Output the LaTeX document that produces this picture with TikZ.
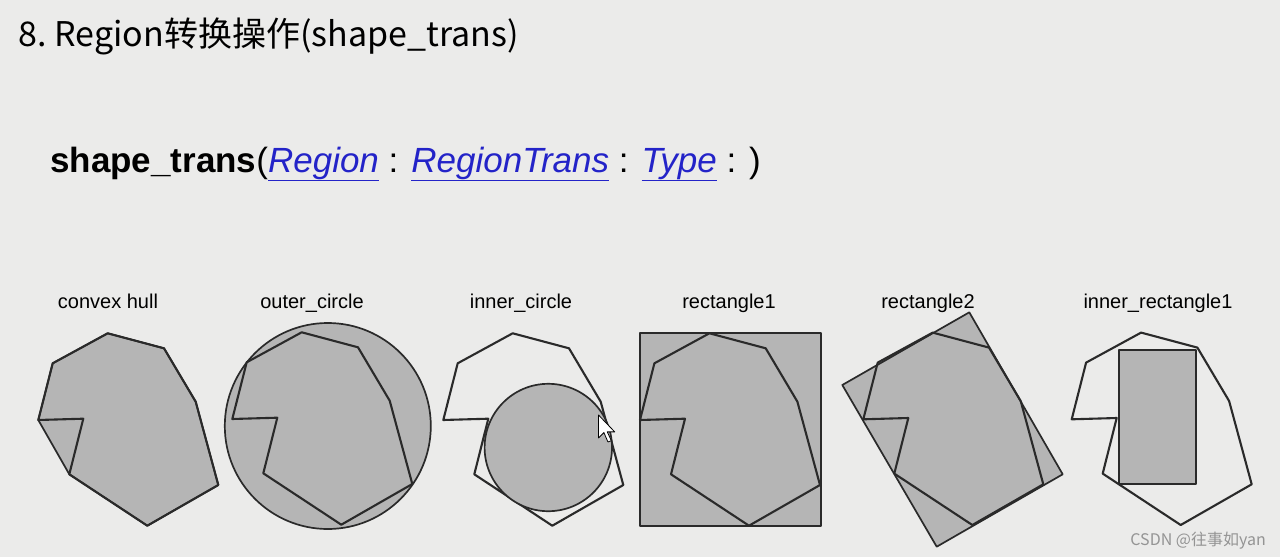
\documentclass[tikz,border=0pt]{standalone}
\usepackage{fontspec}
\usepackage{xcolor}
\usepackage{tikz}
\setmainfont{Liberation Sans}
\newfontfamily\cjk{Noto Sans CJK SC}
\definecolor{paper}{HTML}{EBEBEA}
\definecolor{regfill}{HTML}{B5B5B5}
\definecolor{regline}{HTML}{2A2A2A}
\definecolor{linkblue}{HTML}{2323C8}
\newcommand{\reglink}[1]{\textcolor{linkblue}{\underline{\textit{#1}}}}

\begin{document}
\begin{tikzpicture}[x=1pt, y=-1pt, line join=round,
  region/.style={draw=regline, line width=2.1pt},
  trans/.style={fill=regfill, draw=regline, line width=1.7pt},
  shapelabel/.style={anchor=base, inner sep=0, font=\fontsize{20}{24}\selectfont}]
\useasboundingbox (0,0) rectangle (1280,557);
\fill[paper] (0,0) rectangle (1280,557);

% headings
\node[anchor=base west, inner sep=0] (title) at (18,46)
  {\cjk\fontsize{34}{37}\selectfont 8.\hspace{8pt}Region转换操作(shape\_trans)};
\node[anchor=base west, inner sep=0] (sig) at (50,172)
  {\fontsize{35}{40}\selectfont\textbf{shape\_trans}(\reglink{Region} : \reglink{RegionTrans} : \reglink{Type} : )};

% labels
\node[shapelabel] (lblhull) at (108,308) {convex hull};
\node[shapelabel] (lblouter) at (312,308) {outer\_circle};
\node[shapelabel] (lblinner) at (521,308) {inner\_circle};
\node[shapelabel] (lblrect1) at (729,308) {rectangle1};
\node[shapelabel] (lblrect2) at (928,308) {rectangle2};
\node[shapelabel] (lblinrect) at (1158,308) {inner\_rectangle1};

% filled results under the region
\draw[trans] (107.7,333.3) -- (164,348.3) -- (195.7,401.7) -- (218.3,485)
  -- (147.3,525.7) -- (69.3,474.3) -- (38.3,420) -- (52.7,363.3) -- cycle;
\draw[trans] (327.8,426) circle[radius=103pt];
\draw[trans] (640,333.3) rectangle (821,526);
\draw[trans] (969.3,312.3) -- (1062.7,474.3) -- (936.7,546.7) -- (842.3,385) -- cycle;

% the region itself
\foreach \ox/\oy in {38.3/333.3, 232.3/332.3, 443.3/333.3, 640/333.3, 863.3/332.6, 1071.7/332.6} {
  \begin{scope}[shift={(\ox,\oy)}]
    \draw[region] (69.4,0) -- (125.7,15) -- (157.4,68.4) -- (180,151.7) -- (109,192.4)
      -- (31,141) -- (45,85.4) -- (0,86.7) -- (14.4,30) -- cycle;
  \end{scope}
}

% results drawn over the region
\draw[trans] (548.3,447.5) circle[radius=63.7pt];
\draw[trans] (1118.7,350) rectangle (1196,484);

% mouse pointer
\draw[fill=white, line width=0.8pt, shift={(598.5,415)}, scale=1.35]
  (0,0) -- (0,17) -- (4,13) -- (7,20) -- (9.5,19) -- (6.5,12.5) -- (12,12.5) -- cycle;

\node[anchor=base east, inner sep=0, text=black!42] (wm) at (1266,545)
  {\cjk\fontsize{16}{18}\selectfont CSDN @往事如yan};
\end{tikzpicture}
\end{document}
